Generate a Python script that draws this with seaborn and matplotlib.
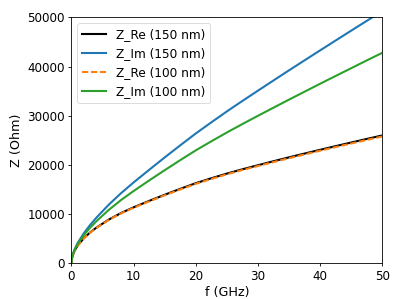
import matplotlib
matplotlib.use("Agg")
import matplotlib.pyplot as plt
import seaborn as sns

# frequency (GHz)
f_ghz = [0, 0.1, 0.25, 0.5, 1, 2, 3, 4, 6, 8, 10, 12.5, 15, 17.5, 20, 22.5, 25, 27.5,
         30, 32.5, 35, 37.5, 40, 42.5, 45, 47.5, 50]

# impedances (Ohm)
z_re_150 = [0, 1140, 1800, 2560, 3620, 5130, 6280, 7250, 8900, 10250, 11400, 12700, 13950,
            15150, 16300, 17300, 18250, 19120, 19950, 20760, 21550, 22320, 23080, 23830,
            24560, 25290, 26000]
z_im_150 = [0, 1190, 1930, 2810, 4130, 6140, 7800, 9270, 11930, 14290, 16450, 19010, 21530,
            23990, 26400, 28660, 30880, 33010, 35100, 37170, 39230, 41260, 43280, 45290,
            47290, 49280, 51250]
z_re_100 = [0, 1130, 1790, 2540, 3590, 5090, 6230, 7190, 8830, 10170, 11310, 12600, 13840,
            15030, 16170, 17160, 18100, 18970, 19790, 20590, 21380, 22140, 22900, 23640,
            24360, 25090, 25790]
z_im_100 = [0, 1160, 1875, 2710, 3930, 5770, 7250, 8550, 10870, 12890, 14710, 16850, 18940,
            20980, 22970, 24810, 26600, 28320, 29990, 31640, 33280, 34890, 36500, 38090,
            39660, 41240, 42790]

labels = ["Z_Re (150 nm)", "Z_Im (150 nm)", "Z_Re (100 nm)", "Z_Im (100 nm)"]

fig = plt.figure(figsize=(3.99, 2.99), dpi=100)
ax = fig.add_axes([0.179, 0.119, 0.779, 0.823])

sns.lineplot(x=f_ghz, y=z_re_150, ax=ax, color="black", lw=1.5, label=labels[0])
sns.lineplot(x=f_ghz, y=z_im_150, ax=ax, color="tab:blue", lw=1.5, label=labels[1])
sns.lineplot(x=f_ghz, y=z_re_100, ax=ax, color="tab:orange", lw=1.5,
             linestyle=(0, (3.0, 1.3)), label=labels[2])
sns.lineplot(x=f_ghz, y=z_im_100, ax=ax, color="tab:green", lw=1.5, label=labels[3])

ax.set_xlim(0, 50)
ax.set_ylim(0, 50000)
ax.set_xticks([0, 10, 20, 30, 40, 50])
ax.set_yticks([0, 10000, 20000, 30000, 40000, 50000])
for s in ax.spines.values():
    s.set_linewidth(0.6)
ax.tick_params(labelsize=8.6, length=2.3, width=0.6, pad=2.3)
ax.set_xlabel("f (GHz)", fontsize=9.2, labelpad=2)
ax.set_ylabel("Z (Ohm)", fontsize=9.2, labelpad=3)
leg = ax.legend(loc="upper left", fontsize=8.7)
leg.get_frame().set_linewidth(0.6)

fig.savefig("out.png", dpi=100)
